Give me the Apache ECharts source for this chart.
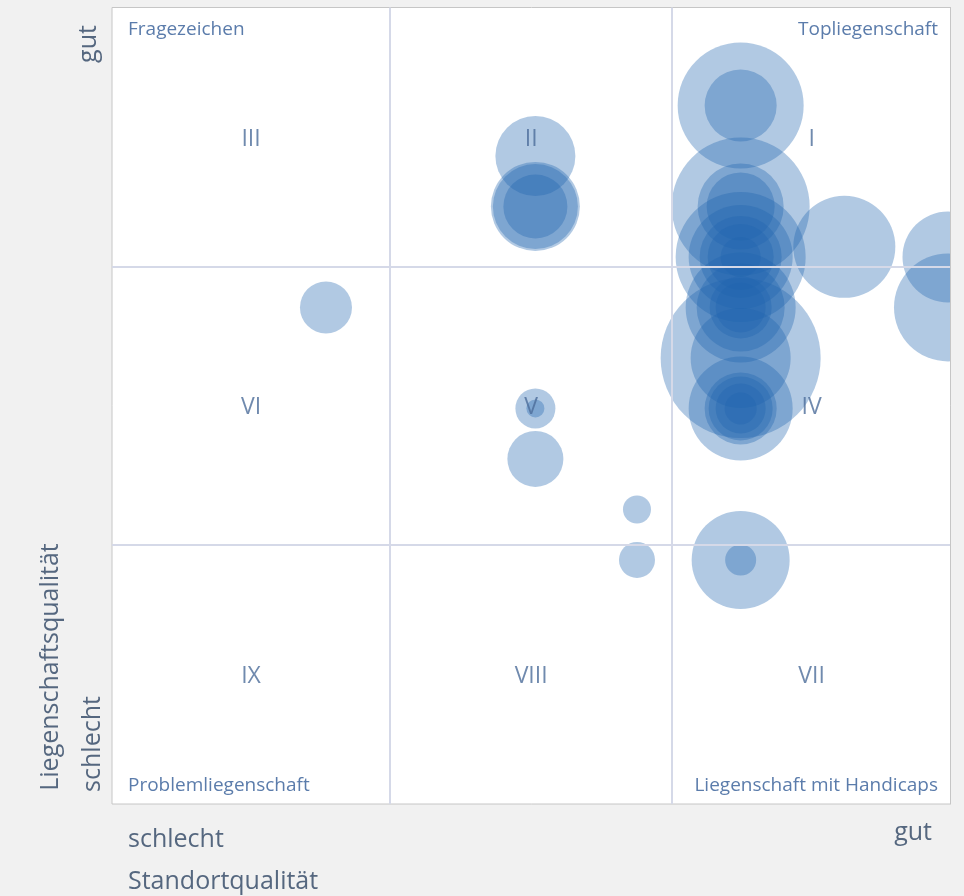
<!DOCTYPE html>
<html>
<head>
<meta charset="utf-8">
<script src="https://cdn.jsdelivr.net/npm/echarts@6/dist/echarts.min.js"></script>
<style>
html,body{margin:0;padding:0;background:#f1f1f1;}
#chart{width:964px;height:896px;}
</style>
</head>
<body>
<div id="chart"></div>
<script>
// Bubble data: Standortqualität level (x), Liegenschaftsqualität level (y), bubble size (diameter)
var xLevels = [2, 4.02, 4.02, 4.02, 4.02, 4.02, 4.02, 4.02, 5, 5,
               6, 6, 6, 6, 6, 6, 6, 6, 6, 6, 6, 6, 6, 6, 6, 6, 6, 6, 6, 6, 6, 6, 6,
               7, 8, 8];
var yLevels = [10, 13, 12, 12, 12, 8, 8, 7, 6, 5,
               14, 14, 12, 12, 12, 11, 11, 11, 11, 10, 10, 10, 10, 9, 9, 8, 8, 8, 8, 8, 5, 5, 11,
               11.2, 11, 10];
var sizes   = [52, 80, 89, 85, 64, 40, 18, 56, 28, 36,
               126, 72, 138, 86, 68, 130, 104, 82, 66, 110, 88, 62, 50, 160, 100, 104, 72, 64, 50, 32, 98, 31, 40,
               102, 91, 108];

// Axis extents and quadrant dividers
var xRange = [-0.064, 8.029];
var yRange = [0.168, 15.94];
var xDividers = [2.618, 5.34];
var yDividers = [5.31, 10.81];

// Quadrant numerals (row-major from top-left)
var numerals = [['III', 'II', 'I'], ['VI', 'V', 'IV'], ['IX', 'VIII', 'VII']];
var cornerLabels = ['Fragezeichen', 'Topliegenschaft', 'Problemliegenschaft', 'Liegenschaft mit Handicaps'];

var bubbleData = xLevels.map(function (x, i) { return [x, yLevels[i], sizes[i]]; });

var xb = [xRange[0], xDividers[0], xDividers[1], xRange[1]];
var yb = [yRange[1], yDividers[1], yDividers[0], yRange[0]];
var numeralData = [];
for (var r = 0; r < 3; r++) {
  for (var c = 0; c < 3; c++) {
    numeralData.push({ value: [(xb[c] + xb[c + 1]) / 2, (yb[r] + yb[r + 1]) / 2], name: numerals[r][c] });
  }
}

var FONT = '"Open Sans"';
var axisTextColor = '#55677f';
var cornerColor = '#5b7cab';
var numeralColor = '#4c6d9a';

var chart = echarts.init(document.getElementById('chart'), null, { renderer: 'canvas' });
chart.setOption({
  backgroundColor: '#f1f1f1',
  animation: false,
  grid: { left: 112, right: 13, top: 7.5, bottom: 92, show: true, backgroundColor: '#ffffff', borderColor: '#c6c6c6', borderWidth: 1 },
  xAxis: { type: 'value', min: xRange[0], max: xRange[1], axisLine: { show: false }, axisTick: { show: false }, axisLabel: { show: false }, splitLine: { show: false } },
  yAxis: { type: 'value', min: yRange[0], max: yRange[1], axisLine: { show: false }, axisTick: { show: false }, axisLabel: { show: false }, splitLine: { show: false } },
  series: [
    {
      type: 'scatter',
      z: 2,
      data: bubbleData,
      symbolSize: function (v) { return v[2]; },
      itemStyle: { color: '#1f64ae', opacity: 0.35 },
      silent: true,
      markLine: {
        silent: true,
        symbol: 'none',
        label: { show: false },
        lineStyle: { color: '#d5d9e8', width: 2, type: 'solid' },
        data: xDividers.map(function (v) { return { xAxis: v }; }).concat(yDividers.map(function (v) { return { yAxis: v }; }))
      }
    },
    {
      type: 'scatter',
      z: 5,
      data: numeralData,
      symbolSize: 0,
      silent: true,
      label: {
        show: true,
        position: 'inside',
        offset: [0, 2],
        formatter: function (p) { return p.name; },
        fontFamily: FONT,
        fontSize: 23,
        color: numeralColor
      }
    }
  ],
  graphic: [
    { type: 'rect', z: 50, shape: { x: 951, y: 0, width: 20, height: 896 }, style: { fill: '#f1f1f1' } },
    { type: 'line', z: 51, shape: { x1: 950.5, y1: 7.5, x2: 950.5, y2: 804 }, style: { stroke: '#c6c6c6', lineWidth: 1 } },
    { type: 'text', z: 60, x: 128, y: 30, style: { text: cornerLabels[0], font: '19px ' + FONT, fill: cornerColor, textVerticalAlign: 'middle' } },
    { type: 'text', z: 60, x: 938, y: 30, style: { text: cornerLabels[1], font: '19px ' + FONT, fill: cornerColor, textAlign: 'right', textVerticalAlign: 'middle' } },
    { type: 'text', z: 60, x: 128, y: 786, style: { text: cornerLabels[2], font: '19px ' + FONT, fill: cornerColor, textVerticalAlign: 'middle' } },
    { type: 'text', z: 60, x: 938, y: 786, style: { text: cornerLabels[3], font: '19px ' + FONT, fill: cornerColor, textAlign: 'right', textVerticalAlign: 'middle' } },
    { type: 'text', z: 60, x: 89, y: 44, rotation: Math.PI / 2, style: { text: 'gut', font: '25px ' + FONT, fill: axisTextColor, textAlign: 'center', textVerticalAlign: 'middle' } },
    { type: 'text', z: 60, x: 93, y: 744, rotation: Math.PI / 2, style: { text: 'schlecht', font: '25px ' + FONT, fill: axisTextColor, textAlign: 'center', textVerticalAlign: 'middle' } },
    { type: 'text', z: 60, x: 51, y: 667, rotation: Math.PI / 2, style: { text: 'Liegenschaftsqualität', font: '25px ' + FONT, fill: axisTextColor, textAlign: 'center', textVerticalAlign: 'middle' } },
    { type: 'text', z: 60, x: 128, y: 840, style: { text: 'schlecht', font: '25px ' + FONT, fill: axisTextColor, textVerticalAlign: 'middle' } },
    { type: 'text', z: 60, x: 932, y: 833, style: { text: 'gut', font: '25px ' + FONT, fill: axisTextColor, textAlign: 'right', textVerticalAlign: 'middle' } },
    { type: 'text', z: 60, x: 128, y: 882, style: { text: 'Standortqualität', font: '25px ' + FONT, fill: axisTextColor, textVerticalAlign: 'middle' } }
  ]
});
</script>
</body>
</html>
